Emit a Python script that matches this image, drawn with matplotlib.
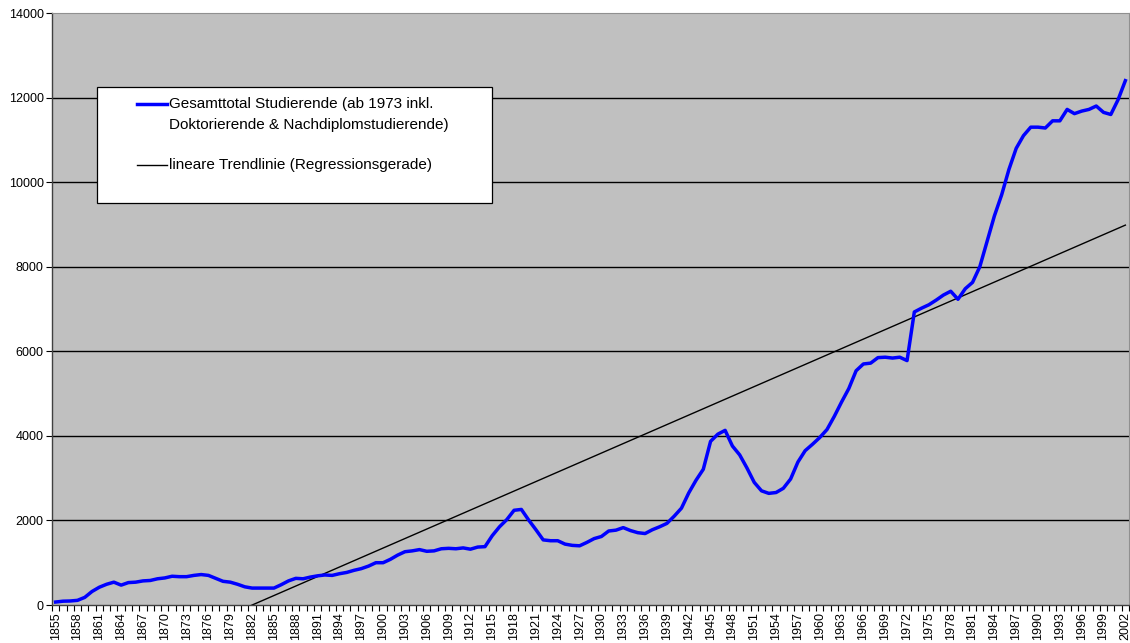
import numpy as np
import matplotlib
matplotlib.use("Agg")
import matplotlib.pyplot as plt
from matplotlib.ticker import FixedLocator, NullFormatter
from matplotlib.patches import Rectangle
from matplotlib.lines import Line2D

plt.rcParams['font.family'] = ['Liberation Sans', 'DejaVu Sans']

years = list(range(1855, 2003))
students = [
    70, 90, 95, 110, 180, 320, 420, 490, 540, 470,            # 1855-1864
    530, 540, 570, 580, 620, 640, 680, 670, 670, 700,         # 1865-1874
    720, 700, 630, 560, 540, 490, 430, 400, 400, 400,         # 1875-1884
    400, 480, 570, 630, 620, 660, 690, 710, 700, 740,         # 1885-1894
    770, 820, 860, 920, 1000, 1000, 1080, 1180, 1260, 1280,   # 1895-1904
    1310, 1270, 1280, 1330, 1340, 1330, 1350, 1320, 1370, 1380,  # 1905-1914
    1640, 1850, 2020, 2240, 2260, 2010, 1780, 1540, 1520, 1520,  # 1915-1924
    1440, 1410, 1400, 1480, 1570, 1620, 1750, 1770, 1830, 1760,  # 1925-1934
    1710, 1690, 1780, 1850, 1930, 2100, 2290, 2650, 2950, 3210,  # 1935-1944
    3870, 4040, 4130, 3760, 3550, 3240, 2900, 2700, 2640, 2660,  # 1945-1954
    2760, 2980, 3380, 3650, 3800, 3960, 4150, 4460, 4800, 5120,  # 1955-1964
    5540, 5700, 5720, 5850, 5860, 5840, 5860, 5780, 6930, 7020,  # 1965-1974
    7100, 7210, 7330, 7420, 7230, 7480, 7630, 8000, 8600, 9200,  # 1975-1984
    9700, 10300, 10800, 11100, 11300, 11300, 11280, 11450, 11450, 11720,  # 1985-1994
    11620, 11680, 11720, 11800, 11650, 11600, 11950, 12400,   # 1995-2002
]
label_years = years[::3]
y_ticks = [0, 2000, 4000, 6000, 8000, 10000, 12000, 14000]

label_main_1 = "Gesamttotal Studierende (ab 1973 inkl."
label_main_2 = "Doktorierende & Nachdiplomstudierende)"
label_trend = "lineare Trendlinie (Regressionsgerade)"

x = np.array(years, dtype=float)
yv = np.array(students, dtype=float)
coef = np.polyfit(x, yv, 1)
trend = np.polyval(coef, x)

W, H = 1130, 643
fig = plt.figure(figsize=(W / 100, H / 100), dpi=100)
ax = fig.add_axes([52 / W, 1 - 605 / H, 1077 / W, 592 / H])
ax.set_facecolor('#c0c0c0')

for yt in y_ticks[1:-1]:
    ax.axhline(yt, color='#000000', lw=1.0, zorder=1)

ax.plot(x, yv, color='#0000ff', lw=2.5, zorder=3, solid_joinstyle='round')
ax.plot(x, trend, color='#000000', lw=1.0, zorder=2)

ax.set_xlim(1854.5, 2002.5)
ax.set_ylim(0, 14000)
ax.set_yticks(y_ticks)
ax.set_yticklabels([str(v) for v in y_ticks])
ax.set_xticks(label_years)
ax.set_xticklabels([str(v) for v in label_years], rotation=90)
ax.xaxis.set_minor_locator(FixedLocator([v - 0.5 for v in years] + [2002.5]))
ax.xaxis.set_minor_formatter(NullFormatter())
ax.tick_params(axis='x', which='major', length=0, labelsize=9, pad=5)
ax.tick_params(axis='x', which='minor', length=4, width=0.8, color='#000000')
ax.tick_params(axis='y', which='major', length=4, width=0.8, labelsize=9, pad=2)

for s in ['top', 'right']:
    ax.spines[s].set_color('#909090')
for s in ['left', 'bottom']:
    ax.spines[s].set_color('#404040')
    ax.spines[s].set_linewidth(1.0)

# legend box drawn in figure coordinates
def fx(px):
    return px / W

def fy(py):
    return 1 - py / H

fig.patches.append(Rectangle((fx(97), fy(203)), fx(492) - fx(97), fy(87) - fy(203),
                             transform=fig.transFigure, facecolor='#ffffff',
                             edgecolor='#000000', lw=0.9, zorder=10))
fig.lines.append(Line2D([fx(137), fx(167)], [fy(104), fy(104)], transform=fig.transFigure,
                        color='#0000ff', lw=2.5, zorder=11))
fig.lines.append(Line2D([fx(137), fx(167)], [fy(165), fy(165)], transform=fig.transFigure,
                        color='#000000', lw=1.0, zorder=11))
fs = 11
fig.text(fx(169), fy(104), label_main_1, fontsize=fs, va='center', ha='left', zorder=12)
fig.text(fx(169), fy(125), label_main_2, fontsize=fs, va='center', ha='left', zorder=12)
fig.text(fx(169), fy(165), label_trend, fontsize=fs, va='center', ha='left', zorder=12)

fig.savefig('out.png', dpi=100)
